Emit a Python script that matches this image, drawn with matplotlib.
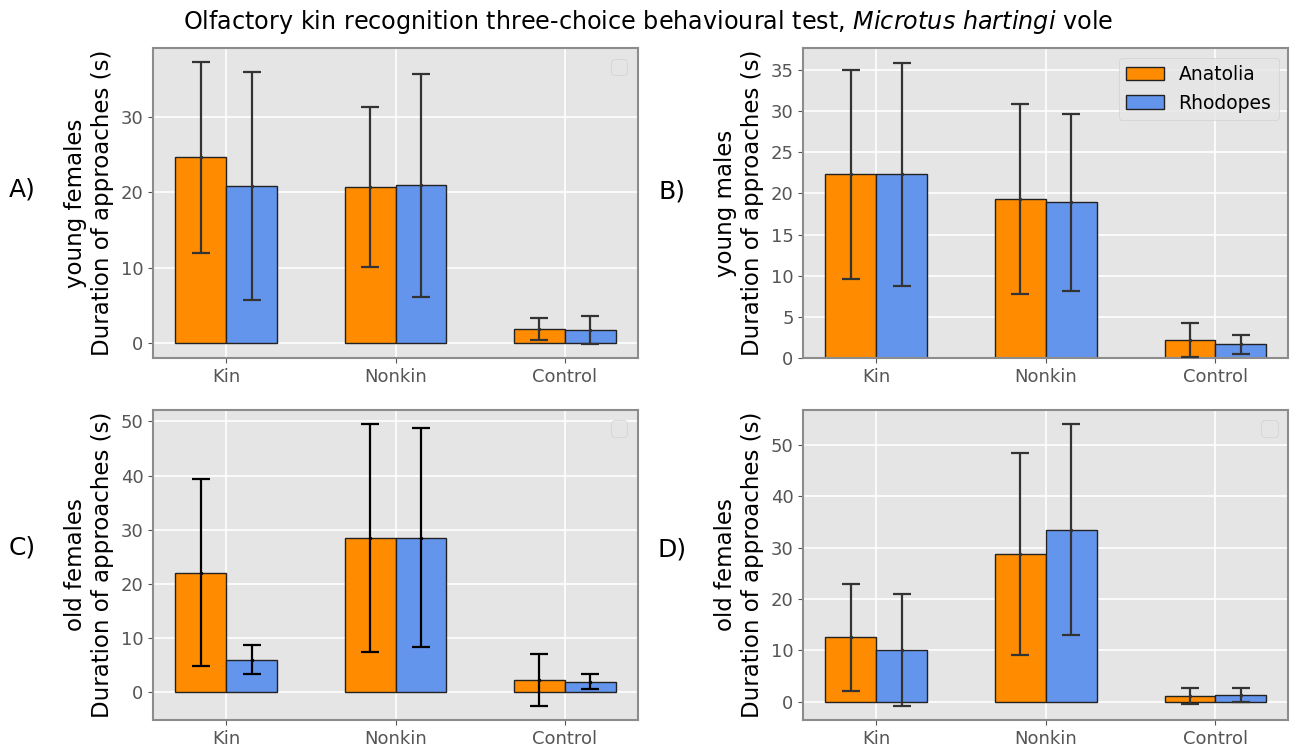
import numpy as np
import matplotlib
matplotlib.use("Agg")
import matplotlib.pyplot as plt

plt.style.use("ggplot")

categories = ["Kin", "Nonkin", "Control"]
series = ["Anatolia", "Rhodopes"]
colors = ["darkorange", "cornflowerblue"]

# panel A: young females
a_anat = [24.6, 20.7, 1.85]
a_anat_sd = [12.6, 10.6, 1.45]
a_rhod = [20.8, 20.9, 1.7]
a_rhod_sd = [15.1, 14.8, 1.85]
# panel B: young males
b_anat = [22.3, 19.3, 2.2]
b_anat_sd = [12.7, 11.5, 2.05]
b_rhod = [22.3, 18.9, 1.7]
b_rhod_sd = [13.5, 10.7, 1.15]
# panel C: old females
c_anat = [22.1, 28.5, 2.3]
c_anat_sd = [17.3, 21.0, 4.8]
c_rhod = [6.0, 28.5, 1.95]
c_rhod_sd = [2.65, 20.2, 1.42]
# panel D: old females
d_anat = [12.5, 28.8, 1.0]
d_anat_sd = [10.5, 19.7, 1.56]
d_rhod = [10.1, 33.5, 1.2]
d_rhod_sd = [10.95, 20.6, 1.37]

panel_labels = ["A)", "B)", "C)", "D)"]
ylabels = ["young females\nDuration of approaches (s)",
           "young males\nDuration of approaches (s)",
           "old females\nDuration of approaches (s)",
           "old females\nDuration of approaches (s)"]

W, H = 1297, 752
fig = plt.figure(figsize=(W / 100, H / 100), dpi=100)

def frac_box(l, r, t, b):
    return [l / W, 1 - b / H, (r - l) / W, (b - t) / H]

boxes = [frac_box(153.3, 637.7, 48.3, 358.3),
         frac_box(803.3, 1288.3, 48.3, 358.3),
         frac_box(153.3, 637.7, 410, 720),
         frac_box(803.3, 1288.3, 410, 720)]

data = [(a_anat, a_anat_sd, a_rhod, a_rhod_sd),
        (b_anat, b_anat_sd, b_rhod, b_rhod_sd),
        (c_anat, c_anat_sd, c_rhod, c_rhod_sd),
        (d_anat, d_anat_sd, d_rhod, d_rhod_sd)]
ecolors = ["#333333", "#333333", "black", "#333333"]
label_pos = [(22, 190), (672, 192), (22, 548), (672, 550)]

x = np.arange(len(categories))
w = 0.3
for i, (box, (m1, s1, m2, s2)) in enumerate(zip(boxes, data)):
    ax = fig.add_axes(box)
    ax.bar(x - w / 2, m1, w, color=colors[0], edgecolor="#222222", linewidth=1,
           label=series[0] if i == 1 else None, zorder=2)
    ax.bar(x + w / 2, m2, w, color=colors[1], edgecolor="#222222", linewidth=1,
           label=series[1] if i == 1 else None, zorder=2)
    for xs, m, s in ((x - w / 2, m1, s1), (x + w / 2, m2, s2)):
        ax.errorbar(xs, m, yerr=s, fmt=".", color=ecolors[i], ecolor=ecolors[i],
                    markersize=3, elinewidth=1.6, capsize=6.5, capthick=1.6, zorder=3)
    ax.set_xticks(x)
    ax.set_xticklabels(categories)
    ax.tick_params(axis="both", labelsize=13, colors="#555555", labelcolor="#555555")
    ax.set_ylabel(ylabels[i], fontsize=16.5, color="black", labelpad=5)
    for sp in ax.spines.values():
        sp.set_visible(True)
        sp.set_color("#8c8c8c")
        sp.set_linewidth(1.5)
    ax.grid(True, color="white", linewidth=1.2)
    ax.set_axisbelow(True)
    if i == 1:
        ax.legend(loc="upper right", fontsize=13.5)
    else:
        ax.legend(handles=[], labels=[], loc="upper right", fontsize=15)
    fig.text(label_pos[i][0] / W, 1 - label_pos[i][1] / H, panel_labels[i],
             fontsize=18, ha="center", va="center", color="black")

fig.suptitle("Olfactory kin recognition three-choice behavioural test, "
             r"$\it{Microtus\ hartingi}$ vole", fontsize=17.2, y=0.99, va="top")

fig.savefig("out.png", dpi=100, facecolor="white")
